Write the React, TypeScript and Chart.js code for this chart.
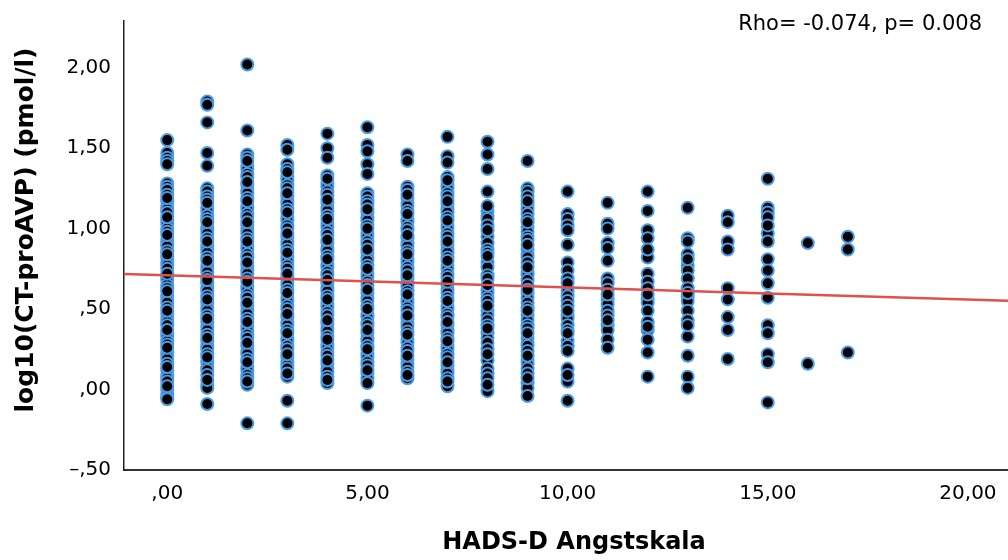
import React, { useEffect, useRef } from "react";
import { Chart, registerables } from "chart.js";

Chart.register(...registerables);

// ---- data ----
const xCategories = [0, 1, 2, 3, 4, 5, 6, 7, 8, 9, 10, 11, 12, 13, 14, 15, 16, 17];

const col0 = [1.55, 1.47, 1.44, 1.42, 1.40, 1.28, 1.26, 1.24, 1.21, 1.19, 1.17, 1.14, 1.12, 1.10, 1.07, 1.05, 1.03, 1.00, 0.98, 0.96, 0.93, 0.91, 0.89, 0.86, 0.84, 0.82, 0.79, 0.77, 0.75, 0.72, 0.70, 0.68, 0.65, 0.63, 0.61, 0.58, 0.56, 0.54, 0.51, 0.49, 0.47, 0.44, 0.42, 0.40, 0.37, 0.35, 0.33, 0.30, 0.28, 0.26, 0.23, 0.21, 0.19, 0.16, 0.14, 0.12, 0.09, 0.07, 0.05, 0.02, 0.00, -0.03, -0.05, -0.06];
const col1 = [1.79, 1.77, 1.66, 1.47, 1.39, 1.25, 1.23, 1.20, 1.18, 1.16, 1.13, 1.11, 1.08, 1.06, 1.04, 1.01, 0.99, 0.97, 0.94, 0.92, 0.89, 0.87, 0.85, 0.82, 0.80, 0.77, 0.75, 0.73, 0.70, 0.68, 0.66, 0.63, 0.61, 0.58, 0.56, 0.54, 0.51, 0.49, 0.46, 0.44, 0.42, 0.39, 0.37, 0.34, 0.32, 0.30, 0.27, 0.25, 0.22, 0.20, 0.17, 0.14, 0.12, 0.09, 0.06, 0.03, 0.01, -0.09];
const col2 = [2.02, 1.61, 1.46, 1.44, 1.42, 1.39, 1.37, 1.34, 1.32, 1.29, 1.27, 1.24, 1.22, 1.19, 1.17, 1.14, 1.12, 1.09, 1.07, 1.04, 1.02, 0.99, 0.97, 0.94, 0.92, 0.89, 0.87, 0.84, 0.82, 0.79, 0.77, 0.74, 0.72, 0.69, 0.67, 0.64, 0.62, 0.59, 0.57, 0.54, 0.52, 0.49, 0.47, 0.44, 0.42, 0.39, 0.37, 0.34, 0.32, 0.29, 0.27, 0.24, 0.22, 0.19, 0.17, 0.14, 0.12, 0.09, 0.07, 0.05, 0.03, -0.21];
const col3 = [1.52, 1.49, 1.40, 1.37, 1.35, 1.32, 1.30, 1.27, 1.25, 1.22, 1.20, 1.17, 1.15, 1.12, 1.10, 1.07, 1.05, 1.02, 1.00, 0.97, 0.95, 0.92, 0.90, 0.87, 0.85, 0.82, 0.80, 0.77, 0.75, 0.72, 0.70, 0.67, 0.65, 0.62, 0.60, 0.57, 0.55, 0.52, 0.50, 0.47, 0.45, 0.42, 0.40, 0.37, 0.35, 0.32, 0.30, 0.27, 0.25, 0.22, 0.20, 0.17, 0.15, 0.13, 0.10, 0.08, -0.07, -0.21];
const col4 = [1.59, 1.50, 1.44, 1.33, 1.31, 1.28, 1.26, 1.23, 1.21, 1.18, 1.16, 1.13, 1.11, 1.08, 1.06, 1.03, 1.01, 0.98, 0.96, 0.93, 0.91, 0.88, 0.86, 0.83, 0.81, 0.78, 0.76, 0.73, 0.71, 0.68, 0.66, 0.63, 0.61, 0.58, 0.56, 0.53, 0.51, 0.48, 0.46, 0.43, 0.41, 0.38, 0.36, 0.33, 0.31, 0.28, 0.26, 0.23, 0.21, 0.18, 0.16, 0.13, 0.11, 0.08, 0.06, 0.04];
const col5 = [1.63, 1.52, 1.48, 1.40, 1.34, 1.22, 1.20, 1.17, 1.15, 1.12, 1.10, 1.07, 1.05, 1.02, 1.00, 0.97, 0.95, 0.92, 0.90, 0.87, 0.85, 0.82, 0.80, 0.77, 0.75, 0.72, 0.70, 0.67, 0.65, 0.62, 0.60, 0.57, 0.55, 0.52, 0.50, 0.47, 0.45, 0.42, 0.40, 0.37, 0.35, 0.32, 0.30, 0.27, 0.25, 0.22, 0.20, 0.17, 0.15, 0.12, 0.10, 0.07, 0.04, -0.10];
const col6 = [1.46, 1.42, 1.26, 1.24, 1.21, 1.19, 1.16, 1.14, 1.11, 1.09, 1.06, 1.04, 1.01, 0.99, 0.96, 0.94, 0.91, 0.89, 0.86, 0.84, 0.81, 0.79, 0.76, 0.74, 0.71, 0.69, 0.66, 0.64, 0.61, 0.59, 0.56, 0.54, 0.51, 0.49, 0.46, 0.44, 0.41, 0.39, 0.36, 0.34, 0.31, 0.29, 0.26, 0.24, 0.21, 0.19, 0.16, 0.14, 0.11, 0.09, 0.07];
const col7 = [1.57, 1.45, 1.41, 1.32, 1.30, 1.27, 1.25, 1.22, 1.20, 1.17, 1.15, 1.12, 1.10, 1.07, 1.05, 1.02, 1.00, 0.97, 0.95, 0.92, 0.90, 0.87, 0.85, 0.82, 0.80, 0.77, 0.75, 0.72, 0.70, 0.67, 0.65, 0.62, 0.60, 0.57, 0.55, 0.52, 0.50, 0.47, 0.45, 0.42, 0.40, 0.37, 0.35, 0.32, 0.30, 0.27, 0.25, 0.22, 0.20, 0.17, 0.15, 0.12, 0.10, 0.07, 0.05, 0.02];
const col8 = [1.54, 1.46, 1.37, 1.23, 1.14, 1.11, 1.08, 1.06, 1.02, 0.99, 0.95, 0.91, 0.87, 0.85, 0.83, 0.79, 0.76, 0.71, 0.69, 0.65, 0.62, 0.60, 0.57, 0.55, 0.52, 0.49, 0.46, 0.43, 0.40, 0.38, 0.35, 0.32, 0.29, 0.25, 0.22, 0.18, 0.13, 0.10, 0.07, 0.03, -0.01];
const col9 = [1.42, 1.25, 1.23, 1.20, 1.17, 1.15, 1.12, 1.09, 1.06, 1.04, 1.01, 0.98, 0.95, 0.93, 0.90, 0.87, 0.84, 0.82, 0.79, 0.76, 0.73, 0.71, 0.68, 0.65, 0.62, 0.60, 0.57, 0.54, 0.51, 0.49, 0.46, 0.43, 0.40, 0.38, 0.35, 0.32, 0.29, 0.27, 0.24, 0.21, 0.18, 0.16, 0.13, 0.10, 0.07, 0.04, 0.01, -0.04];
const col10 = [1.23, 1.09, 1.06, 1.02, 0.99, 0.90, 0.79, 0.74, 0.69, 0.66, 0.61, 0.58, 0.55, 0.52, 0.49, 0.46, 0.44, 0.40, 0.37, 0.35, 0.30, 0.27, 0.24, 0.13, 0.09, 0.05, -0.07];
const col11 = [1.16, 1.03, 1.00, 0.91, 0.88, 0.80, 0.69, 0.66, 0.62, 0.59, 0.56, 0.53, 0.49, 0.46, 0.43, 0.40, 0.37, 0.31, 0.26];
const col12 = [1.23, 1.11, 0.99, 0.94, 0.87, 0.82, 0.72, 0.67, 0.63, 0.59, 0.56, 0.54, 0.49, 0.42, 0.39, 0.37, 0.31, 0.23, 0.08];
const col13 = [1.13, 0.94, 0.92, 0.84, 0.81, 0.77, 0.74, 0.69, 0.63, 0.60, 0.58, 0.55, 0.49, 0.43, 0.40, 0.33, 0.21, 0.08, 0.01];
const col14 = [1.08, 1.04, 0.92, 0.87, 0.63, 0.56, 0.45, 0.37, 0.19];
const col15 = [1.31, 1.13, 1.10, 1.07, 1.02, 0.97, 0.92, 0.81, 0.74, 0.66, 0.57, 0.40, 0.35, 0.22, 0.17, -0.08];
const col16 = [0.91, 0.16];
const col17 = [0.95, 0.87, 0.23];

const columns = [col0, col1, col2, col3, col4, col5, col6, col7, col8, col9, col10, col11, col12, col13, col14, col15, col16, col17];

// regression (fit) line end points
const fitX = [-1.08, 21];
const fitY = [0.718, 0.551];

// axes
const xTickValues = [0, 5, 10, 15, 20];
const xTickLabels = [",00", "5,00", "10,00", "15,00", "20,00"];
const yTickValues = [-0.5, 0, 0.5, 1, 1.5, 2];
const yTickLabels = ["–,50", ",00", ",50", "1,00", "1,50", "2,00"];

const xTitle = "HADS-D Angstskala";
const yTitle = "log10(CT-proAVP) (pmol/l)";
const statText = "Rho= -0.074, p= 0.008";

const FONT = '"DejaVu Sans", "Liberation Sans", sans-serif';

export default function App() {
  const ref = useRef<HTMLCanvasElement | null>(null);

  useEffect(() => {
    document.body.style.margin = "0";
    document.body.style.overflow = "hidden";
    const canvas = ref.current;
    if (!canvas) return;

    // draw order interleaved (values unchanged), like unsorted raw data
    const points: { x: number; y: number }[] = [];
    columns.forEach((col, i) => {
      const stride = 5;
      for (let off = 0; off < stride; off++) {
        for (let j = off; j < col.length; j += stride) {
          points.push({ x: xCategories[i], y: col[j] });
        }
      }
    });
    const fit = fitX.map((x, i) => ({ x, y: fitY[i] }));

    const textPlugin = {
      id: "texts",
      afterDraw(chart: any) {
        const ctx = chart.ctx as CanvasRenderingContext2D;
        ctx.save();
        ctx.fillStyle = "#000";
        ctx.textAlign = "center";
        ctx.textBaseline = "middle";
        ctx.font = `bold 24px ${FONT}`;
        ctx.fillText(xTitle, 574, 543);
        ctx.save();
        ctx.translate(26, 230);
        ctx.rotate(-Math.PI / 2);
        ctx.font = `bold 25px ${FONT}`;
        ctx.fillText(yTitle, 0, 0);
        ctx.restore();
        ctx.font = `21px ${FONT}`;
        ctx.textAlign = "right";
        ctx.fillText(statText, 982, 25);
        ctx.restore();
      },
    };

    const chart = new Chart(canvas, {
      type: "scatter",
      data: {
        datasets: [
          {
            type: "line",
            data: fit,
            borderColor: "#E0514B",
            borderWidth: 2.5,
            pointRadius: 0,
            fill: false,
            order: 0,
          } as any,
          {
            type: "scatter",
            data: points,
            backgroundColor: "#000000",
            borderColor: "#4B9BE6",
            borderWidth: 2,
            pointRadius: 6,
            pointHoverRadius: 6,
            order: 1,
          },
        ],
      },
      options: {
        animation: false,
        responsive: true,
        maintainAspectRatio: false,
        events: [],
        layout: { autoPadding: false, padding: { top: 21, right: 0, bottom: 0, left: 0 } },
        plugins: {
          legend: { display: false },
          tooltip: { enabled: false },
          title: { display: false },
        },
        scales: {
          x: {
            type: "linear",
            min: -1.08,
            max: 21,
            grid: { display: false, drawTicks: false },
            border: { display: true, color: "#333", width: 2 },
            afterBuildTicks: (s: any) => {
              s.ticks = xTickValues.map((v) => ({ value: v }));
            },
            afterFit: (s: any) => {
              s.height = 90;
              s.paddingLeft = 0;
              s.paddingRight = 0;
            },
            ticks: {
              padding: 12,
              color: "#000",
              font: { family: FONT, size: 20 },
              maxRotation: 0,
              callback: (v: any) => {
                const i = xTickValues.indexOf(Number(v));
                return i >= 0 ? xTickLabels[i] : "";
              },
            },
          },
          y: {
            type: "linear",
            min: -0.5,
            max: 2.29,
            grid: { display: false, drawTicks: false },
            border: { display: true, color: "#222", width: 1.5 },
            afterBuildTicks: (s: any) => {
              s.ticks = yTickValues.map((v) => ({ value: v }));
            },
            afterFit: (s: any) => {
              s.width = 124;
              s.paddingTop = 0;
              s.paddingBottom = 0;
            },
            ticks: {
              padding: 13,
              color: "#000",
              font: { family: FONT, size: 20 },
              callback: (v: any) => {
                const i = yTickValues.indexOf(Number(v));
                return i >= 0 ? yTickLabels[i] : "";
              },
            },
          },
        },
      },
      plugins: [textPlugin],
    });

    return () => chart.destroy();
  }, []);

  return (
    <div style={{ position: "relative", width: 1008, height: 560 }}>
      <canvas ref={ref} />
    </div>
  );
}
